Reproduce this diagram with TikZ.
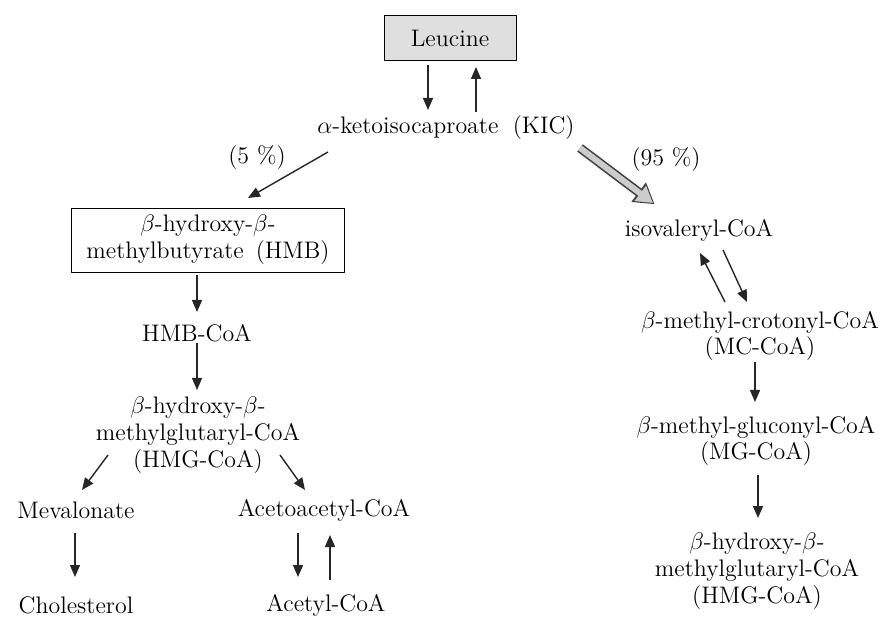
\documentclass[tikz,border=0pt]{standalone}
\usetikzlibrary{arrows.meta,calc}
\begin{document}
\begin{tikzpicture}[x=0.5bp,y=-0.5bp,line join=bevel,
  >={Triangle[length=6bp,width=5bp]},
  every node/.style={font=\fontsize{12}{13.5}\selectfont,inner sep=2bp,align=center},
  flow/.style={black!85,line width=0.7bp,->},
  major/.style={draw=gray!40,line width=3bp,-{Triangle[length=8bp,width=9bp]},
    preaction={draw=black!75,line width=4.6bp,shorten >=-1bp,-{Triangle[length=10bp,width=11.5bp]}}}]
\useasboundingbox (0,0) rectangle (889,627);
%%
\node (node_leucine) at (450,38) [draw,fill=gray!25,minimum width=66bp,minimum height=22.5bp] {Leucine};
\node (node_kic) at (446,128) [draw=none] {$\alpha$-ketoisocaproate\hspace{0.6em}(KIC)};
\node (node_pct5) at (257,158) [draw=none] {(5~\%)};
\node (node_pct95) at (666,160) [draw=none] {(95~\%)};
%
\node (node_hmb) at (208,240) [draw,minimum width=136.5bp,minimum height=32bp] {$\beta$-hydroxy-$\beta$-\\methylbutyrate\hspace{0.5em}(HMB)};
\node (node_hmbcoa) at (197,333) [draw=none] {HMB-CoA};
\node (node_hmgl) at (198,435) [draw=none] {$\beta$-hydroxy-$\beta$-\\methylglutaryl-CoA\\(HMG-CoA)};
\node (node_meval) at (76,510) [draw=none] {Mevalonate};
\node (node_chol) at (76,605) [draw=none] {Cholesterol};
\node (node_acac) at (324,510) [draw=none] {Acetoacetyl-CoA};
\node (node_acetyl) at (326,605) [draw=none] {Acetyl-CoA};
%
\node (node_isoval) at (699,230) [draw=none] {isovaleryl-CoA};
\node (node_mccoa) at (760,336) [draw=none] {$\beta$-methyl-crotonyl-CoA\\(MC-CoA)};
\node (node_mgcoa) at (756,441) [draw=none] {$\beta$-methyl-gluconyl-CoA\\(MG-CoA)};
\node (node_hmgr) at (757,571) [draw=none] {$\beta$-hydroxy-$\beta$-\\methylglutaryl-CoA\\(HMG-CoA)};
%%
\draw [flow] ($(node_leucine)+(-22,27)$) -- ($(node_kic)+(-18,-18)$);
\draw [flow] ($(node_kic)+(30,-16)$) -- ($(node_leucine)+(26,29)$);
\draw [flow] ($(node_kic)+(-118,24)$) -- ($(node_hmb)+(40,-42)$);
\draw [major] ($(node_kic)+(134,20)$) -- ($(node_isoval)+(-46,-27)$);
%
\draw [flow] ($(node_hmb)+(-11,35)$) -- ($(node_hmbcoa)+(0,-21)$);
\draw [flow] ($(node_hmbcoa)+(0,10)$) -- ($(node_hmgl)+(-1,-45)$);
\draw [flow] ($(node_hmgl)+(-90,20)$) -- ($(node_meval)+(6,-20)$);
\draw [flow] ($(node_hmgl)+(82,20)$) -- ($(node_acac)+(-19,-20)$);
\draw [flow] ($(node_meval)+(-1,23)$) -- ($(node_chol)+(-1,-28)$);
\draw [flow] ($(node_acac)+(-26,23)$) -- ($(node_acetyl)+(-28,-28)$);
\draw [flow] ($(node_acetyl)+(4,-25)$) -- ($(node_acac)+(6,25)$);
%
\draw [flow] ($(node_isoval)+(24,20)$) -- ($(node_mccoa)+(-13,-34)$);
\draw [flow] ($(node_mccoa)+(-35,-34)$) -- ($(node_isoval)+(1,23)$);
\draw [flow] ($(node_mccoa)+(-5,26)$) -- ($(node_mgcoa)+(-1,-39)$);
\draw [flow] ($(node_mgcoa)+(2,34)$) -- ($(node_hmgr)+(1,-53)$);
%
\end{tikzpicture}
\end{document}
